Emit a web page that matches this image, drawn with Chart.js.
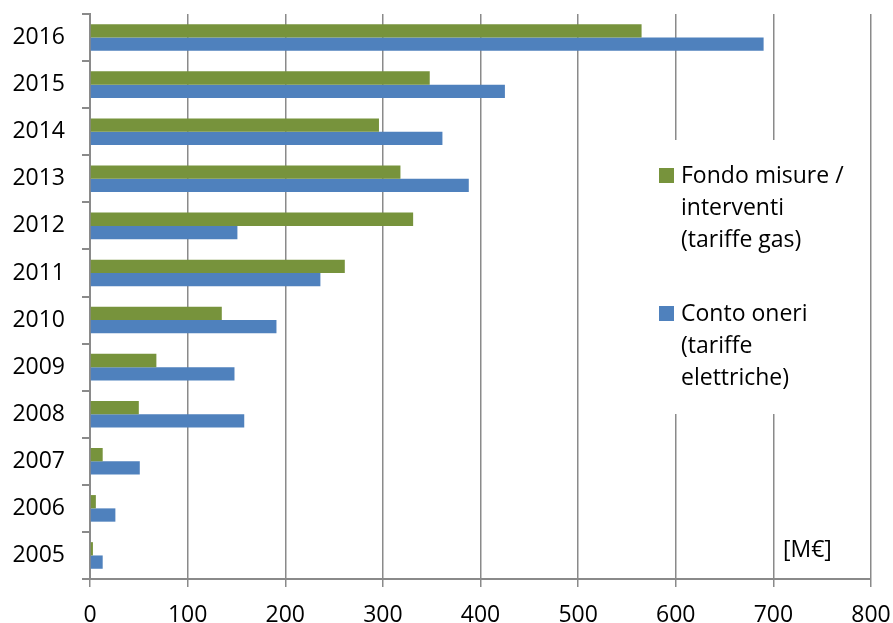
<!DOCTYPE html>
<html>
<head>
<meta charset="utf-8">
<script src="https://cdn.jsdelivr.net/npm/chart.js@4"></script>
<style>
  html, body { margin: 0; padding: 0; background: #fff; }
  #wrap { width: 893px; height: 623px; }
</style>
</head>
<body>
<div id="wrap"><canvas id="fondiChart" width="893" height="623"></canvas></div>
<script>
// anni (dal più recente) e importi in M€
var anni = ['2016', '2015', '2014', '2013', '2012', '2011', '2010', '2009', '2008', '2007', '2006', '2005'];
var fondoGas = [565, 348, 296, 318, 331, 261, 135, 68, 50, 13, 6, 3];
var contoOneri = [690, 425, 361, 388, 151, 236, 191, 148, 158, 51, 26, 13];
var tickValori = [0, 100, 200, 300, 400, 500, 600, 700, 800];

var legendaGas = ['Fondo misure /', 'interventi', '(tariffe gas)'];
var legendaOneri = ['Conto oneri', '(tariffe', 'elettriche)'];
var unita = '[M€]';

var grigio = '#8a8a8a';
var font = "'Open Sans', sans-serif";

// legenda su più righe con sfondo bianco sopra la griglia
var legendaPlugin = {
  id: 'legendaMultiriga',
  afterDraw: function (chart) {
    var ctx = chart.ctx;
    ctx.save();
    ctx.fillStyle = '#fff';
    ctx.fillRect(650, 140, 210, 274);

    var voci = [
      { righe: legendaGas, colore: chart.data.datasets[0].backgroundColor, y: 183 },
      { righe: legendaOneri, colore: chart.data.datasets[1].backgroundColor, y: 321 }
    ];
    ctx.font = '23px ' + font;
    ctx.textBaseline = 'alphabetic';
    ctx.textAlign = 'left';
    voci.forEach(function (v) {
      ctx.fillStyle = v.colore;
      ctx.fillRect(659, v.y - 15, 15, 15);
      ctx.fillStyle = '#000';
      v.righe.forEach(function (r, i) {
        ctx.fillText(r, 681, v.y + i * 32);
      });
    });

    ctx.fillText(unita, 783, 557);
    ctx.restore();
  }
};

new Chart(document.getElementById('fondiChart'), {
  type: 'bar',
  data: {
    labels: anni,
    datasets: [{
      label: 'Fondo misure / interventi (tariffe gas)',
      data: fondoGas,
      backgroundColor: '#77933C',
      categoryPercentage: 0.565,
      barPercentage: 1
    }, {
      label: 'Conto oneri (tariffe elettriche)',
      data: contoOneri,
      backgroundColor: '#4F81BD',
      categoryPercentage: 0.565,
      barPercentage: 1
    }]
  },
  options: {
    indexAxis: 'y',
    responsive: false,
    animation: false,
    layout: { autoPadding: false, padding: { top: 14, right: 22, left: 0, bottom: 0 } },
    plugins: {
      legend: { display: false },
      tooltip: { enabled: false }
    },
    scales: {
      x: {
        min: 0,
        max: 800,
        afterBuildTicks: function (scale) {
          scale.ticks = tickValori.map(function (v) { return { value: v }; });
        },
        afterFit: function (scale) {
          scale.height = 44;
          scale.paddingLeft = 0;
          scale.paddingRight = 0;
        },
        grid: { color: grigio, lineWidth: 1.5, tickLength: 8, drawOnChartArea: true },
        border: { display: true, color: grigio, width: 2 },
        ticks: { color: '#000', font: { family: font, size: 23 }, padding: 15, maxRotation: 0 }
      },
      y: {
        afterFit: function (scale) {
          scale.width = 90;
          scale.paddingTop = 0;
          scale.paddingBottom = 0;
        },
        grid: { offset: true, drawOnChartArea: false, color: grigio, lineWidth: 2, tickLength: 8 },
        border: { display: true, color: grigio, width: 2 },
        ticks: { color: '#000', font: { family: font, size: 23 }, padding: 17 }
      }
    }
  },
  plugins: [legendaPlugin]
});
</script>
</body>
</html>
